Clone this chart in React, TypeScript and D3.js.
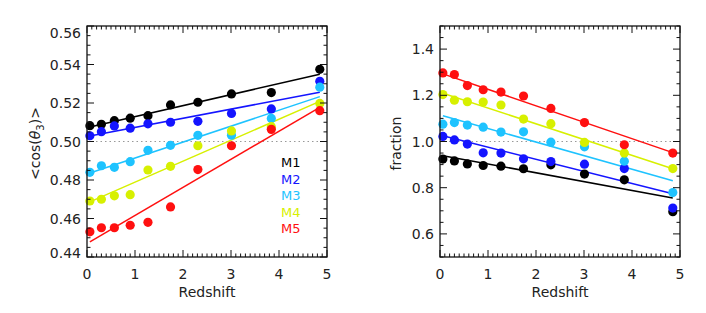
import * as d3 from 'd3';
import React from 'react';

// redshifts of the snapshots (same for both panels)
const redshifts = [0.06, 0.3, 0.57, 0.9, 1.27, 1.74, 2.31, 3.01, 3.84, 4.85];

const seriesNames = ['M1', 'M2', 'M3', 'M4', 'M5'];
const seriesColors = ['#000000', '#1414ff', '#1ec3ff', '#d7f000', '#ff1010'];

// left panel: <cos(theta_3)>
const cosM1 = [0.5082, 0.5089, 0.5108, 0.5121, 0.5134, 0.519, 0.5204, 0.5247, 0.5254, 0.5375];
const cosM2 = [0.503, 0.5051, 0.5081, 0.5069, 0.5092, 0.51, 0.5105, 0.5146, 0.5169, 0.5313];
const cosM3 = [0.484, 0.4874, 0.4866, 0.4895, 0.4954, 0.498, 0.5032, 0.5033, 0.512, 0.5282];
const cosM4 = [0.4691, 0.47, 0.4718, 0.4724, 0.4852, 0.4871, 0.4978, 0.5055, 0.5077, 0.5198];
const cosM5 = [0.4531, 0.4552, 0.4552, 0.4565, 0.458, 0.466, 0.4854, 0.4978, 0.5063, 0.516];
const cosFitIntercept = [0.5072, 0.5026, 0.4831, 0.468, 0.447];
const cosFitSlope = [0.00572, 0.00474, 0.00829, 0.0109, 0.01459];

// right panel: fraction
const fracM1 = [0.924, 0.916, 0.903, 0.896, 0.893, 0.882, 0.899, 0.859, 0.834, 0.696];
const fracM2 = [1.022, 1.007, 0.989, 0.951, 0.95, 0.925, 0.913, 0.902, 0.883, 0.712];
const fracM3 = [1.075, 1.082, 1.071, 1.062, 1.041, 1.042, 0.997, 0.977, 0.915, 0.779];
const fracM4 = [1.203, 1.179, 1.172, 1.171, 1.158, 1.097, 1.077, 0.996, 0.95, 0.883];
const fracM5 = [1.297, 1.29, 1.242, 1.224, 1.214, 1.197, 1.143, 1.082, 0.986, 0.95];
const fracFitIntercept = [0.941, 1.028, 1.115, 1.213, 1.297];
const fracFitSlope = [-0.0382, -0.0524, -0.0587, -0.0683, -0.0712];

const cosTicks = [0.44, 0.46, 0.48, 0.5, 0.52, 0.54, 0.56];
const fracTicks = [0.6, 0.8, 1.0, 1.2, 1.4];
const zTicks = [0, 1, 2, 3, 4, 5];

const W = 706;
const H = 313;
const FONT = '"DejaVu Sans", Verdana, sans-serif';
const TEXT = '#222';

interface PanelProps {
  left: number;
  yDomain: [number, number];
  yTicks: number[];
  yMinorStep: number;
  ref1: number;
  series: number[][];
  intercepts: number[];
  slopes: number[];
  ylabel: React.ReactNode;
  ylabelX: number;
  legend?: boolean;
}

const top = 26;
const bottom = 257;
const plotW = 240;

const Panel: React.FC<PanelProps> = ({
  left, yDomain, yTicks, yMinorStep, ref1, series, intercepts, slopes, ylabel, ylabelX, legend
}) => {
  const x = d3.scaleLinear().domain([0, 5]).range([left, left + plotW]);
  const y = d3.scaleLinear().domain(yDomain).range([bottom, top]);

  const xMinor = d3.range(0, 5.0001, 0.1);
  const yMinor = d3.range(yDomain[0], yDomain[1] + 1e-9, yMinorStep);
  const isMajorX = (v: number) => Math.abs(v - Math.round(v)) < 1e-6;
  const isMajorY = (v: number) => yTicks.some(t => Math.abs(t - v) < 1e-6);

  const zMin = d3.min(redshifts) as number;
  const zMax = d3.max(redshifts) as number;

  return (
    <g>
      {/* reference dotted line */}
      <line x1={x(0)} x2={x(5)} y1={y(ref1)} y2={y(ref1)} stroke="#999" strokeWidth={1.2} strokeDasharray="1.5,3" />

      {/* fit lines */}
      {intercepts.map((a, i) => (
        <path
          key={'f' + i}
          d={d3.line<number>().x(z => x(z)).y(z => y(a + slopes[i] * z))([zMin, zMax]) || ''}
          stroke={seriesColors[i]}
          strokeWidth={1.5}
          fill="none"
        />
      ))}

      {/* points */}
      {series.map((vals, i) => vals.map((v, j) => (
        <circle key={`p${i}-${j}`} cx={x(redshifts[j])} cy={y(v)} r={4.6} fill={seriesColors[i]} />
      )))}

      {/* frame */}
      <rect x={x(0)} y={top} width={plotW} height={bottom - top} fill="none" stroke="#111" strokeWidth={1.3} />

      {/* x ticks, bottom & top */}
      {xMinor.map((v, i) => {
        const len = isMajorX(v) ? 7 : 3.5;
        return (
          <g key={'xt' + i} stroke="#111" strokeWidth={1}>
            <line x1={x(v)} x2={x(v)} y1={bottom} y2={bottom - len} />
            <line x1={x(v)} x2={x(v)} y1={top} y2={top + len} />
          </g>
        );
      })}
      {/* y ticks, left & right */}
      {yMinor.map((v, i) => {
        const len = isMajorY(v) ? 7 : 3.5;
        return (
          <g key={'yt' + i} stroke="#111" strokeWidth={1}>
            <line x1={x(0)} x2={x(0) + len} y1={y(v)} y2={y(v)} />
            <line x1={x(5)} x2={x(5) - len} y1={y(v)} y2={y(v)} />
          </g>
        );
      })}

      {/* tick labels */}
      {zTicks.map(t => (
        <text key={'xl' + t} x={x(t)} y={279} textAnchor="middle" fontSize={14} fill={TEXT} fontFamily={FONT}>{t}</text>
      ))}
      {yTicks.map(t => {
        const cy = Math.min(Math.max(y(t), top + 7), bottom - 4.5);
        return (
          <text key={'yl' + t} x={x(0) - 6} y={cy + 5} textAnchor="end" fontSize={14} fill={TEXT} fontFamily={FONT}>
            {yMinorStep < 0.01 ? d3.format('.2f')(t) : d3.format('.1f')(t)}
          </text>
        );
      })}

      <text x={x(2.5)} y={297} textAnchor="middle" fontSize={14} fill={TEXT} fontFamily={FONT}>Redshift</text>
      <text transform={`translate(${ylabelX}, ${(top + bottom) / 2 + 2}) rotate(-90)`} textAnchor="middle" fontSize={14} fill={TEXT} fontFamily={FONT}>
        {ylabel}
      </text>

      {legend && seriesNames.map((n, i) => (
        <text key={n} x={281} y={167 + i * 16.6} fontSize={13} fill={seriesColors[i]} fontFamily={FONT}>{n}</text>
      ))}
    </g>
  );
};

const App: React.FC = () => {
  return (
    <svg width={W} height={H} style={{ position: 'absolute', left: 0, top: 0, background: '#fff' }}>
      <Panel
        left={87}
        yDomain={[0.44, 0.56]}
        yTicks={cosTicks}
        yMinorStep={0.005}
        ref1={0.5}
        series={[cosM1, cosM2, cosM3, cosM4, cosM5]}
        intercepts={cosFitIntercept}
        slopes={cosFitSlope}
        ylabelX={40}
        legend
        ylabel={<>
          {'<cos('}<tspan fontStyle="italic">θ</tspan><tspan fontSize={10} dy={4}>3</tspan><tspan dy={-4}>{')>'}</tspan>
        </>}
      />
      <Panel
        left={440}
        yDomain={[0.5, 1.5]}
        yTicks={fracTicks}
        yMinorStep={0.05}
        ref1={1.0}
        series={[fracM1, fracM2, fracM3, fracM4, fracM5]}
        intercepts={fracFitIntercept}
        slopes={fracFitSlope}
        ylabelX={401}
        ylabel="fraction"
      />
    </svg>
  );
};

export default App;
